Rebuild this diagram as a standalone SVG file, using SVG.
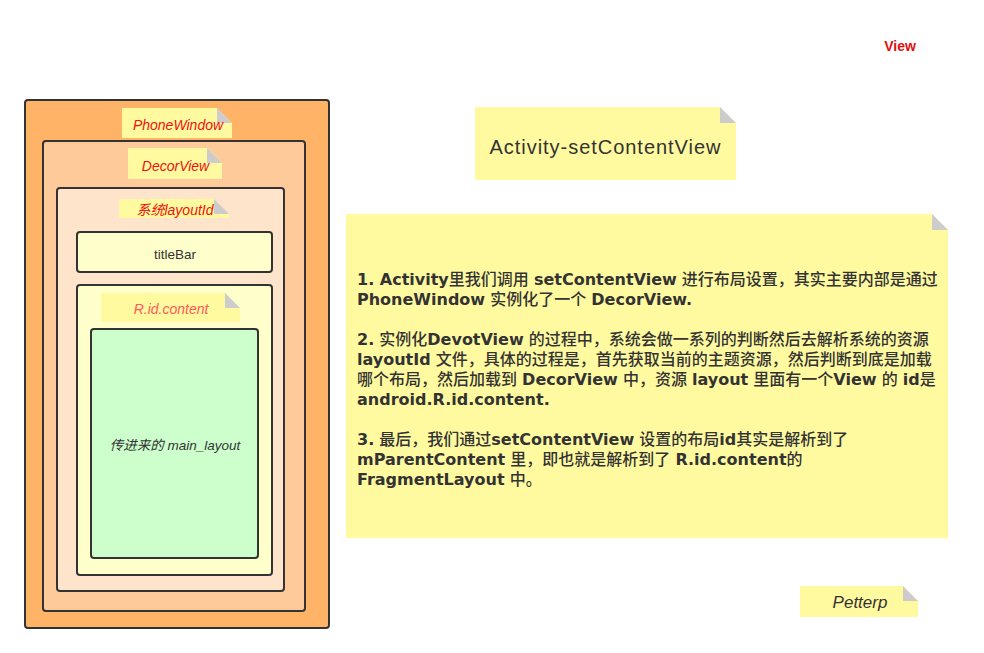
<svg xmlns="http://www.w3.org/2000/svg" width="984" height="653" viewBox="0 0 984 653">
<style>
.box{stroke:#333;stroke-width:2}
.note{fill:#FFFAA0}
.fold{fill:#CCCCCC}
.lbl{font-family:"Liberation Sans","Noto Sans CJK SC",sans-serif;font-style:italic;font-size:14px;fill:#EE1111;text-anchor:middle}
.txt{font-family:"Liberation Sans","Noto Sans CJK SC",sans-serif;font-size:13.5px;fill:#333;text-anchor:middle}
.body{font-family:"DejaVu Sans","Noto Sans CJK SC",sans-serif;font-size:16px;fill:#333;font-weight:500}
.b{font-weight:bold}
</style>
<rect width="984" height="653" fill="#FFFFFF"/>

<g id="view-label">
<text x="900" y="51" font-family="Liberation Sans, sans-serif" font-weight="bold" font-size="14" fill="#E01010" text-anchor="middle">View</text>
</g>

<g id="phonewindow">
<rect class="box" x="25" y="100" width="304" height="528" rx="3" fill="#FFB366"/>
<path class="note" d="M122 108 H217 L232 123 V138 H122 Z"/>
<path class="fold" d="M217 108 V123 H232 Z"/>
<text class="lbl" x="178" y="129.5">PhoneWindow</text>
</g>

<g id="decorview">
<rect class="box" x="43" y="141" width="262" height="470" rx="3" fill="#FFCA99"/>
<path class="note" d="M128 148 H207 L222 163 V179 H128 Z"/>
<path class="fold" d="M207 148 V163 H222 Z"/>
<text class="lbl" x="175.5" y="171">DecorView</text>
</g>

<g id="layoutid">
<rect class="box" x="57" y="188" width="227" height="403" rx="3" fill="#FFE4CC"/>
<path class="note" d="M119 199 H214 L229 214 V218 H119 Z"/>
<path class="fold" d="M214 199 V214 H229 Z"/>
<text class="lbl" x="175" y="215">系统layoutId</text>
</g>

<g id="titlebar">
<rect class="box" x="77" y="232" width="195" height="40" rx="3" fill="#FFFFCC"/>
<text class="txt" x="175" y="259">titleBar</text>
</g>

<g id="content">
<rect class="box" x="77" y="285" width="195" height="290" rx="3" fill="#FFFFCC"/>
<path class="note" d="M101 293 H225 L240 308 V322 H101 Z"/>
<path class="fold" d="M225 293 V308 H240 Z"/>
<text class="lbl" x="171" y="314" style="fill:#FF5A5A">R.id.content</text>
</g>

<g id="main-layout">
<rect class="box" x="91" y="329" width="167" height="229" rx="3" fill="#CCFFCC"/>
<text class="txt" x="175" y="450" font-style="italic">传进来的 main_layout</text>
</g>

<g id="title-note">
<path class="note" d="M475 107 H720 L736 123 V180 H475 Z"/>
<path class="fold" d="M720 107 V123 H736 Z"/>
<text x="605" y="154" font-family="Liberation Sans, sans-serif" font-size="20" fill="#333" text-anchor="middle" textLength="231" lengthAdjust="spacing">Activity-setContentView</text>
</g>

<g id="desc-note">
<path class="note" d="M346 214 H932 L948 230 V538 H346 Z"/>
<path class="fold" d="M932 214 V230 H948 Z"/>
<text class="body" x="357" y="285"><tspan class="b">1. Activity</tspan>里我们调用 <tspan class="b">setContentView</tspan> 进行布局设置，其实主要内部是通过</text>
<text class="body" x="357" y="305"><tspan class="b">PhoneWindow</tspan> 实例化了一个 <tspan class="b">DecorView.</tspan></text>
<text class="body" x="357" y="345"><tspan class="b">2.</tspan> 实例化<tspan class="b">DevotView</tspan> 的过程中，系统会做一系列的判断然后去解析系统的资源</text>
<text class="body" x="357" y="365"><tspan class="b">layoutId</tspan> 文件，具体的过程是，首先获取当前的主题资源，然后判断到底是加载</text>
<text class="body" x="357" y="385">哪个布局，然后加载到 <tspan class="b">DecorView</tspan> 中，资源 <tspan class="b">layout</tspan> 里面有一个<tspan class="b">View</tspan> 的 <tspan class="b">id</tspan>是</text>
<text class="body" x="357" y="405"><tspan class="b">android.R.id.content.</tspan></text>
<text class="body" x="357" y="445"><tspan class="b">3.</tspan> 最后，我们通过<tspan class="b">setContentView</tspan> 设置的布局<tspan class="b">id</tspan>其实是解析到了</text>
<text class="body" x="357" y="465"><tspan class="b">mParentContent</tspan> 里，即也就是解析到了 <tspan class="b">R.id.content</tspan>的</text>
<text class="body" x="357" y="485"><tspan class="b">FragmentLayout</tspan> 中。</text>
</g>

<g id="petterp">
<path class="note" d="M800 586 H903 L918 601 V617 H800 Z"/>
<path class="fold" d="M903 586 V601 H918 Z"/>
<text x="860" y="608" font-family="Liberation Sans, sans-serif" font-style="italic" font-size="17" fill="#333" text-anchor="middle">Petterp</text>
</g>

<g id="connectors"></g>
</svg>
